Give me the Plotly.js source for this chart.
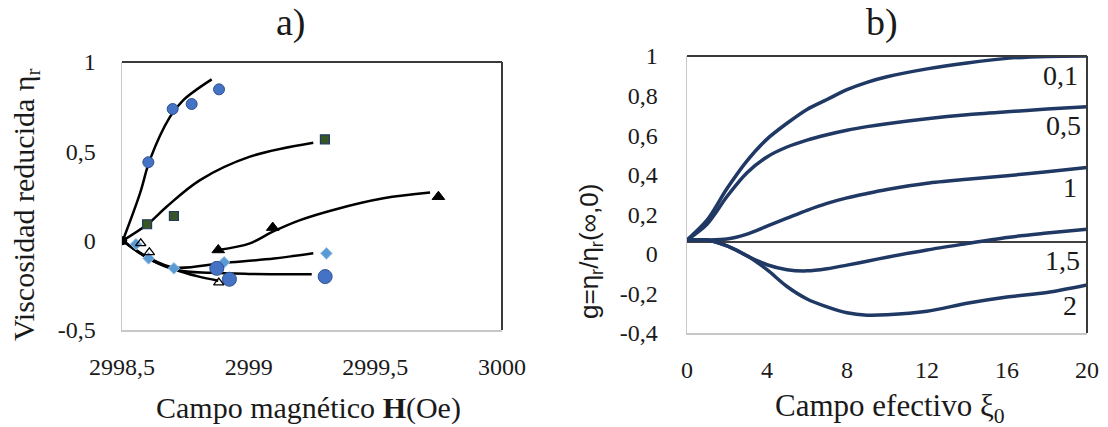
<!DOCTYPE html>
<html>
<head>
<meta charset="utf-8">
<script src="https://cdn.plot.ly/plotly-3.0.1.min.js"></script>
<style>html,body{margin:0;padding:0;background:#fff;}#chart{width:1108px;height:427px;}</style>
</head>
<body>
<div id="chart"></div>
<script>
// ---------- Panel a) data ----------
const originX = [2998.503];
const originY = [0];
const circX = [2998.604, 2998.700, 2998.775, 2998.883];
const circY = [0.439, 0.737, 0.765, 0.847];
const sqX = [2998.599, 2998.705, 2999.301];
const sqY = [0.092, 0.138, 0.567];
const triX = [2998.880, 2999.095, 2999.749];
const triY = [-0.052, 0.073, 0.246];
const diaX = [2998.555, 2998.605, 2998.705, 2998.903, 2999.307];
const diaY = [-0.020, -0.099, -0.155, -0.121, -0.071];
const bigcX = [2998.874, 2998.924, 2999.302];
const bigcY = [-0.155, -0.216, -0.201];
const otriX = [2998.574, 2998.608, 2998.882];
const otriY = [-0.015, -0.065, -0.235];

const fit1X = [2998.503, 2998.571, 2998.610, 2998.690, 2998.742, 2998.854];
const fit1Y = [0, 0.265, 0.452, 0.694, 0.787, 0.903];
const fit2X = [2998.503, 2998.599, 2998.676, 2998.808, 2999.005, 2999.255];
const fit2Y = [0, 0.090, 0.190, 0.339, 0.470, 0.548];
const fit3X = [2998.880, 2999.005, 2999.095, 2999.203, 2999.334, 2999.532, 2999.716];
const fit3Y = [-0.052, -0.015, 0.050, 0.115, 0.172, 0.237, 0.269];
const fit4X = [2998.503, 2998.605, 2998.705, 2998.900, 2999.100, 2999.255];
const fit4Y = [0, -0.095, -0.150, -0.125, -0.100, -0.071];
const fit5X = [2998.503, 2998.605, 2998.716, 2998.850, 2999.000, 2999.249];
const fit5Y = [0, -0.100, -0.164, -0.180, -0.186, -0.188];
const fit6X = [2998.503, 2998.605, 2998.705, 2998.800, 2998.880];
const fit6Y = [0, -0.100, -0.160, -0.200, -0.224];

const aXTickVals = [2998.5, 2999, 2999.5, 3000];
const aXTickText = ["2998,5", "2999", "2999,5", "3000"];
const aYTickVals = [-0.5, 0, 0.5, 1];
const aYTickText = ["-0,5", "0", "0,5", "1"];

// ---------- Panel b) data ----------
const xi = [0, 1, 2, 3, 4, 5, 6, 7, 8, 9, 10, 12, 14, 16, 18, 20];
const g01 = [0.07, 0.17, 0.33, 0.47, 0.58, 0.66, 0.73, 0.78, 0.83, 0.867, 0.895, 0.935, 0.965, 0.988, 0.998, 1.0];
const g05 = [0.07, 0.15, 0.29, 0.41, 0.49, 0.54, 0.575, 0.602, 0.625, 0.643, 0.658, 0.683, 0.703, 0.718, 0.732, 0.744];
const g1  = [0.07, 0.07, 0.075, 0.10, 0.14, 0.18, 0.22, 0.255, 0.283, 0.305, 0.325, 0.357, 0.377, 0.395, 0.415, 0.437];
const g15 = [0.07, 0.07, 0.04, -0.01, -0.055, -0.08, -0.086, -0.075, -0.057, -0.037, -0.017, 0.02, 0.052, 0.083, 0.105, 0.125];
const g2  = [0.07, 0.07, 0.04, -0.01, -0.08, -0.165, -0.228, -0.268, -0.298, -0.31, -0.308, -0.29, -0.25, -0.218, -0.195, -0.157];
const curveLabels = ["0,1", "0,5", "1", "1,5", "2"];
const labelX = [18.65, 18.8, 19.15, 18.75, 19.15];
const labelY = [0.90, 0.648, 0.334, -0.035, -0.263];
const refLineY = 0.06;

const bXTickVals = [0, 4, 8, 12, 16, 20];
const bXTickText = ["0", "4", "8", "12", "16", "20"];
const bYTickVals = [-0.4, -0.2, 0, 0.2, 0.4, 0.6, 0.8, 1];
const bYTickText = ["-0,4", "-0,2", "0", "0,2", "0,4", "0,6", "0,8", "1"];

// ---------- helpers ----------
const W = 1108, H = 427;
const px = v => v / W;
const py = v => 1 - v / H;
const SERIF = "Liberation Serif, Times New Roman, serif";
const SANS = "Liberation Sans, Arial, sans-serif";
const TXT = "#1a1a1a";

function fit(x, y) {
  return {x, y, xaxis: 'x', yaxis: 'y', mode: 'lines', type: 'scatter',
    line: {color: '#000', width: 2.5, shape: 'spline', smoothing: 1}, hoverinfo: 'skip', showlegend: false};
}
function curve(y) {
  return {x: xi, y, xaxis: 'x2', yaxis: 'y2', mode: 'lines', type: 'scatter',
    line: {color: '#1F3864', width: 3.5, shape: 'spline', smoothing: 0.8}, showlegend: false};
}

const traces = [
  fit(fit1X, fit1Y), fit(fit2X, fit2Y), fit(fit3X, fit3Y),
  fit(fit4X, fit4Y), fit(fit5X, fit5Y), fit(fit6X, fit6Y),
  {x: circX, y: circY, mode: 'markers', type: 'scatter', showlegend: false,
   marker: {symbol: 'circle', size: 11, color: '#4472C4', line: {color: '#2F528F', width: 1}}},
  {x: sqX, y: sqY, mode: 'markers', type: 'scatter', showlegend: false,
   marker: {symbol: 'square', size: 9, color: '#375623', line: {color: '#203864', width: 1.2}}},
  {x: triX, y: triY, mode: 'markers', type: 'scatter', showlegend: false,
   marker: {symbol: 'triangle-up', size: 11, color: '#000', line: {color: '#000', width: 1}}},
  {x: diaX, y: diaY, mode: 'markers', type: 'scatter', showlegend: false,
   marker: {symbol: 'diamond', size: 9, color: '#5B9BD5', line: {color: '#9DC3E6', width: 1}}},
  {x: bigcX, y: bigcY, mode: 'markers', type: 'scatter', showlegend: false,
   marker: {symbol: 'circle', size: 14, color: '#4472C4', line: {color: '#2F528F', width: 1}}},
  {x: otriX, y: otriY, mode: 'markers', type: 'scatter', showlegend: false,
   marker: {symbol: 'triangle-up-open', size: 9, color: '#000', line: {color: '#000', width: 1.3}}},
  {x: originX, y: originY, mode: 'markers', type: 'scatter', showlegend: false,
   marker: {symbol: 'circle', size: 9, color: '#000'}},
  curve(g01), curve(g05), curve(g1), curve(g15), curve(g2)
];

const axisCommon = {
  showgrid: false, zeroline: false, showline: true, linecolor: '#c8c8c8', linewidth: 1.5,
  ticks: '', tickfont: {family: SERIF, size: 24, color: TXT}, fixedrange: true
};

function ann(text, x, y, size, family, angle) {
  return {text, xref: 'paper', yref: 'paper', x: px(x), y: py(y), xanchor: 'center', yanchor: 'middle',
    showarrow: false, textangle: angle || 0, font: {family, size, color: TXT}};
}

const layout = {
  width: W, height: H,
  margin: {l: 0, r: 0, t: 0, b: 0},
  paper_bgcolor: '#fff', plot_bgcolor: '#fff',
  showlegend: false,
  xaxis: Object.assign({}, axisCommon, {domain: [px(122), px(502)], range: [2998.5, 3000],
    tickmode: 'array', tickvals: aXTickVals, ticktext: aXTickText, anchor: 'y', ticklabelstandoff: 15}),
  yaxis: Object.assign({}, axisCommon, {domain: [py(330), py(62)], range: [-0.5, 1],
    tickmode: 'array', tickvals: aYTickVals, ticktext: aYTickText, anchor: 'x', ticklabelstandoff: 20}),
  xaxis2: Object.assign({}, axisCommon, {domain: [px(687), px(1087)], range: [0, 20],
    tickmode: 'array', tickvals: bXTickVals, ticktext: bXTickText, anchor: 'y2', ticklabelstandoff: 15}),
  yaxis2: Object.assign({}, axisCommon, {domain: [py(333), py(56)], range: [-0.4, 1],
    tickmode: 'array', tickvals: bYTickVals, ticktext: bYTickText, anchor: 'x2', ticklabelstandoff: 23}),
  shapes: [
    {type: 'line', xref: 'x domain', yref: 'y domain', x0: 0, x1: 1, y0: 1, y1: 1, line: {color: '#3a3a3a', width: 2}},
    {type: 'line', xref: 'x domain', yref: 'y domain', x0: 1, x1: 1, y0: 0, y1: 1, line: {color: '#3a3a3a', width: 2}},
    {type: 'line', xref: 'x2 domain', yref: 'y2 domain', x0: 0, x1: 1, y0: 1, y1: 1, line: {color: '#3a3a3a', width: 2}},
    {type: 'line', xref: 'x2 domain', yref: 'y2 domain', x0: 1, x1: 1, y0: 0, y1: 1, line: {color: '#3a3a3a', width: 2}},
    {type: 'line', xref: 'x2 domain', yref: 'y2', x0: 0, x1: 1, y0: refLineY, y1: refLineY, line: {color: '#000', width: 1.5}, layer: 'below'}
  ],
  annotations: [
    ann('a)', 291, 22, 38, SERIF),
    ann('b)', 882, 22, 38, SERIF),
    ann('Viscosidad reducida η<sub>r</sub>', 26, 205, 30, SERIF, -90),
    ann('Campo magnético <b>H</b>(Oe)', 308, 408, 30, SERIF),
    ann('g=η<sub>r</sub>/η<sub>r</sub>(∞,0)', 590, 252, 26, SANS, -90),
    ann('Campo efectivo ξ<sub>0</sub>', 890, 408, 31, SERIF)
  ].concat(curveLabels.map((t, i) => ({
    text: t, xref: 'x2', yref: 'y2', x: labelX[i], y: labelY[i], showarrow: false,
    xanchor: 'center', yanchor: 'middle',
    font: {family: SERIF, size: 28, color: TXT}
  })))
};

Plotly.newPlot('chart', traces, layout, {staticPlot: true, displayModeBar: false});
</script>
</body>
</html>
